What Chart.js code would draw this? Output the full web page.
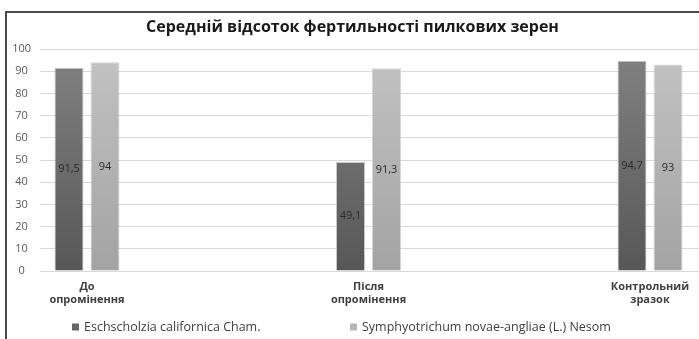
<!DOCTYPE html>
<html>
<head>
<meta charset="utf-8">
<script src="https://cdn.jsdelivr.net/npm/chart.js@4.4.1/dist/chart.umd.min.js"></script>
<style>
  body { margin: 0; background: #fff; }
  canvas { display: block; }
</style>
</head>
<body>
<canvas id="fertility-chart" width="699" height="339"></canvas>
<script>
// Chart data
const chartTitle = 'Середній відсоток фертильності пилкових зерен';
const categories = ['До опромінення', 'Після опромінення', 'Контрольний зразок'];
const seriesNames = ['Eschscholzia californica Cham.', 'Symphyotrichum novae-angliae (L.) Nesom'];
const eschscholziaValues = [91.5, 49.1, 94.7];
const symphyotrichumValues = [94, 91.3, 93];
const yTicks = [0, 10, 20, 30, 40, 50, 60, 70, 80, 90, 100];

const fontFamily = '"Open Sans", sans-serif';

// Vertical gradient for bar fills
function barGradient(top, bottom) {
    return ctx => {
        const area = ctx.chart.chartArea;
        if (!area) return bottom;
        const g = ctx.chart.ctx.createLinearGradient(0, area.top, 0, area.bottom);
        g.addColorStop(0, top);
        g.addColorStop(1, bottom);
        return g;
    };
}

// Excel-like frame on left and top
const framePlugin = {
    id: 'frame',
    beforeDraw(chart) {
        const ctx = chart.ctx;
        ctx.save();
        ctx.strokeStyle = '#4a4a4a';
        ctx.lineWidth = 2;
        ctx.beginPath();
        ctx.moveTo(6, chart.height);
        ctx.lineTo(6, 12);
        ctx.lineTo(chart.width, 12);
        ctx.stroke();
        ctx.restore();
    }
};

// Value labels centred in each bar, with decimal comma
const valueLabels = {
    id: 'valueLabels',
    afterDatasetsDraw(chart) {
        const ctx = chart.ctx;
        ctx.save();
        ctx.font = '11px ' + fontFamily;
        ctx.fillStyle = '#2b2b2b';
        ctx.textAlign = 'center';
        ctx.textBaseline = 'middle';
        chart.data.datasets.forEach((ds, i) => {
            chart.getDatasetMeta(i).data.forEach((bar, j) => {
                const v = ds.data[j].y;
                ctx.fillText(String(v).replace('.', ','), bar.x, (bar.y + bar.base) / 2);
            });
        });
        ctx.restore();
    }
};

// Legend under the axis, items placed like the original
const bottomLegend = {
    id: 'bottomLegend',
    afterDraw(chart) {
        const ctx = chart.ctx;
        ctx.save();
        ctx.font = '12.5px ' + fontFamily;
        ctx.textBaseline = 'middle';
        const starts = [72, 350], box = 7, boxGap = 5, y = 327;
        seriesNames.forEach((name, i) => {
            ctx.fillStyle = chart.data.datasets[i].legendColor;
            ctx.fillRect(starts[i], y - box / 2, box, box);
            ctx.fillStyle = '#404040';
            ctx.fillText(name, starts[i] + box + boxGap, y);
        });
        ctx.restore();
    }
};

const progressChart = document.getElementById('fertility-chart');

const myChart = new Chart(progressChart, {
    type: 'bar',
    data: {
        datasets: [{
            label: seriesNames[0],
            data: eschscholziaValues.map((v, i) => ({ x: i, y: v })),
            backgroundColor: barGradient('#828282', '#575757'),
            legendColor: '#666666',
            borderColor: '#c9c9c9',
            borderWidth: 1,
            categoryPercentage: 0.256,
            barPercentage: 0.806
        }, {
            label: seriesNames[1],
            data: symphyotrichumValues.map((v, i) => ({ x: i, y: v })),
            backgroundColor: barGradient('#c3c3c3', '#a3a3a3'),
            legendColor: '#b5b5b5',
            borderColor: '#d6d6d6',
            borderWidth: 1,
            categoryPercentage: 0.256,
            barPercentage: 0.806
        }]
    },
    options: {
        responsive: false,
        animation: false,
        layout: { padding: { left: 6, top: 14, right: 0, bottom: 30 } },
        plugins: {
            legend: { display: false },
            tooltip: { enabled: false },
            title: {
                display: true,
                text: chartTitle,
                color: '#1a1a1a',
                font: { family: fontFamily, size: 16, weight: 'bold', lineHeight: 1.25 },
                padding: { top: 3, bottom: 12 }
            }
        },
        scales: {
            x: {
                type: 'linear',
                offset: false,
                min: -0.167,
                max: 2.174,
                grid: { display: false, drawTicks: false, offset: false },
                border: { display: false },
                afterBuildTicks: scale => {
                    scale.ticks = categories.map((c, i) => ({ value: i }));
                },
                afterFit: scale => { scale.height = 38; },
                ticks: {
                    padding: 9,
                    maxRotation: 0,
                    color: '#404040',
                    font: { family: fontFamily, size: 11, weight: 'bold', lineHeight: 1.2 },
                    callback: value => categories[value] ? categories[value].split(' ') : ''
                }
            },
            y: {
                min: 0,
                max: 100,
                afterBuildTicks: scale => {
                    scale.ticks = yTicks.map(v => ({ value: v }));
                },
                afterFit: scale => { scale.width = 34; },
                grid: { color: '#d9d9d9', drawTicks: false },
                border: { display: false },
                ticks: {
                    padding: 9,
                    crossAlign: 'center',
                    color: '#595959',
                    font: { family: fontFamily, size: 11 }
                }
            }
        }
    },
    plugins: [framePlugin, valueLabels, bottomLegend]
});
</script>
</body>
</html>
